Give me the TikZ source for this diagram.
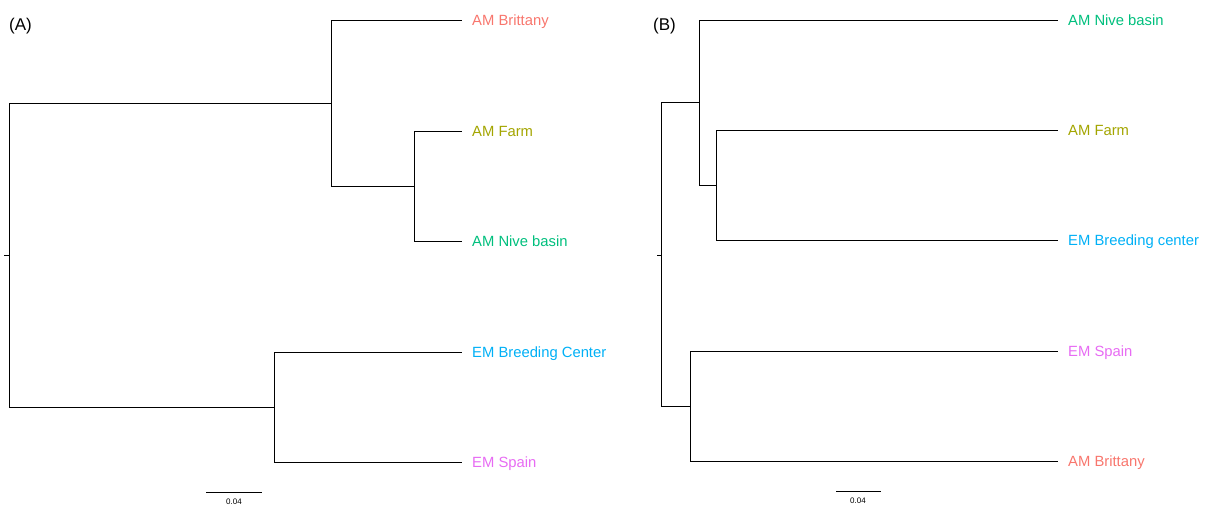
\documentclass[tikz,border=0pt]{standalone}
\usepackage{fontspec}
\setmainfont{Liberation Sans}
\definecolor{cBrit}{HTML}{F8766D}
\definecolor{cFarm}{HTML}{A3A500}
\definecolor{cNive}{HTML}{00BF7D}
\definecolor{cBreed}{HTML}{00B0F6}
\definecolor{cSpain}{HTML}{E76BF3}
\tikzset{
  branch/.style={draw=black, line width=0.7pt},
  tiplabel/.style={anchor=base west, inner sep=0pt, font=\fontsize{14.8}{17}\selectfont},
  panel/.style={anchor=base west, inner sep=0pt, font=\fontsize{17}{20}\selectfont},
  scaletext/.style={anchor=base, inner sep=0pt, font=\fontsize{8}{9}\selectfont},
}
\begin{document}
\begin{tikzpicture}[x=1pt, y=-1pt]
\useasboundingbox (0,0) rectangle (1208,507);

% ---------------- Tree (A) ----------------
\node[panel] (pa) at (9,30) {(A)};
\coordinate (a-stub) at (4,255);
\coordinate (a-root) at (9,255);
\coordinate (a-am) at (331,103);
\coordinate (a-in) at (414,186);
\coordinate (a-em) at (274,407);
\coordinate (a-t1) at (462,20);
\coordinate (a-t2) at (462,131);
\coordinate (a-t3) at (462,241);
\coordinate (a-t4) at (462,352);
\coordinate (a-t5) at (462,462);

\draw[branch] (a-stub) -- (a-root);
\draw[branch] (a-root) |- (a-am);
\draw[branch] (a-root) |- (a-em);
\draw[branch] (a-am) |- (a-t1);
\draw[branch] (a-am) |- (a-in);
\draw[branch] (a-in) |- (a-t2);
\draw[branch] (a-in) |- (a-t3);
\draw[branch] (a-em) |- (a-t4);
\draw[branch] (a-em) |- (a-t5);

\node[tiplabel, text=cBrit]  (a-l1) at (472,25.5) {AM Brittany};
\node[tiplabel, text=cFarm]  (a-l2) at (472,136.5) {AM Farm};
\node[tiplabel, text=cNive]  (a-l3) at (472,246.5) {AM Nive basin};
\node[tiplabel, text=cBreed] (a-l4) at (472,357.5) {EM Breeding Center};
\node[tiplabel, text=cSpain] (a-l5) at (472,467.5) {EM Spain};

\coordinate (a-s1) at (206,492);
\coordinate (a-s2) at (262,492);
\draw[branch] (a-s1) -- (a-s2);
\node[scaletext] (a-st) at (234,504) {0.04};

% ---------------- Tree (B) ----------------
\node[panel] (pb) at (653,30) {(B)};
\coordinate (b-stub) at (657,255);
\coordinate (b-root) at (661,255);
\coordinate (b-top) at (699,102);
\coordinate (b-in) at (716,185);
\coordinate (b-bot) at (690,406);
\coordinate (b-t1) at (1058,20);
\coordinate (b-t2) at (1058,130);
\coordinate (b-t3) at (1058,240);
\coordinate (b-t4) at (1058,351);
\coordinate (b-t5) at (1058,461);

\draw[branch] (b-stub) -- (b-root);
\draw[branch] (b-root) |- (b-top);
\draw[branch] (b-root) |- (b-bot);
\draw[branch] (b-top) |- (b-t1);
\draw[branch] (b-top) |- (b-in);
\draw[branch] (b-in) |- (b-t2);
\draw[branch] (b-in) |- (b-t3);
\draw[branch] (b-bot) |- (b-t4);
\draw[branch] (b-bot) |- (b-t5);

\node[tiplabel, text=cNive]  (b-l1) at (1068,25.5) {AM Nive basin};
\node[tiplabel, text=cFarm]  (b-l2) at (1068,135.5) {AM Farm};
\node[tiplabel, text=cBreed] (b-l3) at (1068,245.5) {EM Breeding center};
\node[tiplabel, text=cSpain] (b-l4) at (1068,356.5) {EM Spain};
\node[tiplabel, text=cBrit]  (b-l5) at (1068,466.5) {AM Brittany};

\coordinate (b-s1) at (836,491);
\coordinate (b-s2) at (881,491);
\draw[branch] (b-s1) -- (b-s2);
\node[scaletext] (b-st) at (858,503) {0.04};
\end{tikzpicture}
\end{document}
